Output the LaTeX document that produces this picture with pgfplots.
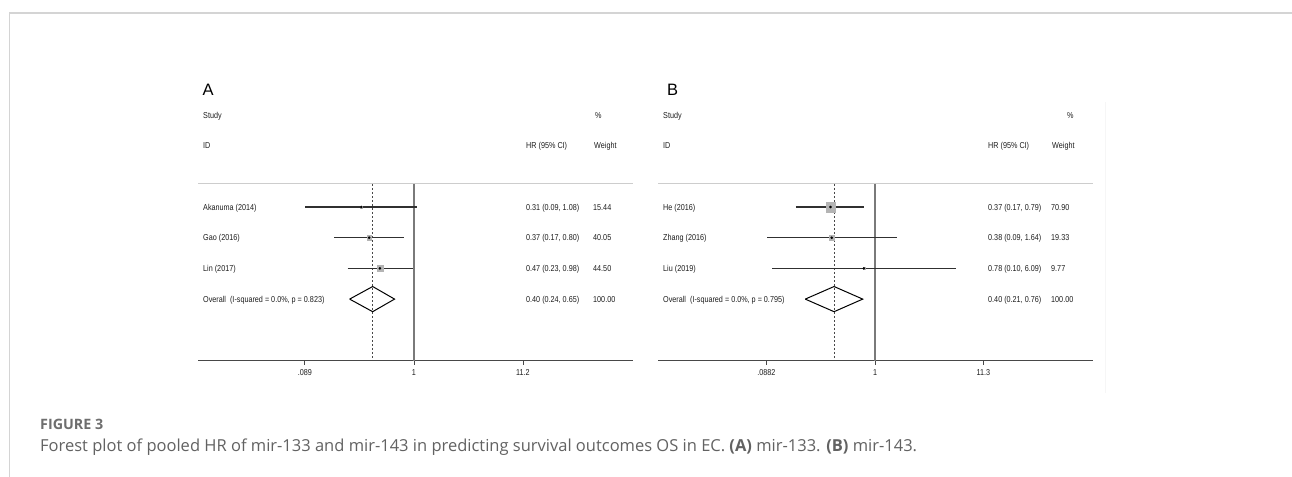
\documentclass[border=0pt]{standalone}
\usepackage{fontspec}
\setmainfont{Liberation Sans}
\newfontfamily\stata{Liberation Sans}[FakeStretch=0.84]
\newfontfamily\capfont{Open Sans}
\usepackage{pgfplots}
\usepackage{pgfplotstable}
\pgfplotsset{compat=1.18}

\definecolor{axisgray}{HTML}{484848}
\definecolor{refgray}{HTML}{7A7A7A}
\definecolor{cigray}{HTML}{303030}
\definecolor{boxgray}{HTML}{B4B4B4}
\definecolor{hdrgray}{HTML}{CDCDCD}
\definecolor{txtgray}{HTML}{1E1E1E}
\definecolor{capgray}{HTML}{626262}
\definecolor{figgray}{HTML}{6E6E6E}
\definecolor{framegray}{HTML}{D4D4D4}

% Panel A: y hr lo hi box(mark half-size)
\pgfplotstableread{
y  hr   lo   hi   box
-1 0.31 0.09 1.08 1.3
-2 0.37 0.17 0.80 2.35
-3 0.47 0.23 0.98 3.0
}\tabA
% Panel B
\pgfplotstableread{
y  hr   lo   hi   box
-1 0.37 0.17 0.79 4.85
-2 0.38 0.09 1.64 2.35
-3 0.78 0.10 6.09 1.2
}\tabB

\newcommand{\fs}{\stata\fontsize{8.6bp}{9bp}\selectfont}
\newcommand{\T}[3]{\node[anchor=base west, inner sep=0pt, font=\fs, text=txtgray] at ({#1bp},{-#2bp-3.1bp}) {#3};}

\pgfplotsset{
  forest/.style={
    anchor=south west, scale only axis, width=435bp, height=291.65bp,
    ymin=-6, ymax=3.5,
    axis x line*=bottom, axis y line=none,
    x axis line style={-, draw=axisgray, line width=1.1bp},
    xminorticks=false,
    tick align=outside, major tick length=4bp,
    every tick/.style={axisgray, line width=0.9bp},
    xticklabel style={font=\fs, text=txtgray, inner sep=0pt, anchor=base, yshift=-10.8bp},
    clip=false,
  },
  ci/.style={cigray, line width=1.3bp},
  boxes/.style={scatter, only marks, mark=square*,
    mark options={draw=none, fill=boxgray},
    scatter/use mapped color={draw=boxgray, fill=boxgray},
    visualization depends on={\thisrow{box} \as \bs},
    scatter/@pre marker code/.append style={/tikz/mark size=\bs}},
}

\begin{document}
\begin{tikzpicture}
\useasboundingbox (0,0) rectangle (1292bp,-477bp);
\fill[white] (0,0) rectangle (1292bp,-477bp);
% frame
\draw[framegray, line width=1.6bp] (9bp,-12.7bp) -- (1292bp,-12.7bp);
\draw[framegray, line width=1bp] (9bp,-12bp) -- (9bp,-477bp);
\draw[gray!7, line width=0.8bp] (1105bp,-102bp) -- (1105bp,-393bp);

% ---------------- Panel A
\begin{axis}[xmode=log, forest, at={(198bp,-360.5bp)}, xmin=0.00832, xmax=128.5,
  xtick={0.089,1,11.2}, xticklabels={.089,1,11.2}]
\addplot[hdrgray, line width=1bp] coordinates {(0.00832,-0.25) (128.5,-0.25)};
\addplot[refgray, line width=1.2bp] coordinates {(1,-0.25) (1,-6)};
\addplot[axisgray, line width=0.8bp, dash pattern=on 2.2bp off 1.8bp] coordinates {(0.40,-0.25) (0.40,-6)};
\addplot[ci] coordinates {(0.09,-1) (1.08,-1)};
\addplot[ci] coordinates {(0.17,-2) (0.80,-2)};
\addplot[ci] coordinates {(0.23,-3) (0.98,-3)};
\addplot[boxes] table[x=hr, y=y] {\tabA};
\addplot[only marks, mark=*, mark size=1.1, black] table[x=hr, y=y] {\tabA};
\addplot[black, line width=1bp] coordinates {(0.24,-4) (0.40,-3.59) (0.65,-4) (0.40,-4.41) (0.24,-4)};
\end{axis}

% ---------------- Panel B
\begin{axis}[xmode=log, forest, at={(658bp,-360.5bp)}, xmin=0.00779, xmax=131.3,
  xtick={0.0882,1,11.3}, xticklabels={.0882,1,11.3}]
\addplot[hdrgray, line width=1bp] coordinates {(0.00779,-0.25) (131.3,-0.25)};
\addplot[refgray, line width=1.2bp] coordinates {(1,-0.25) (1,-6)};
\addplot[axisgray, line width=0.8bp, dash pattern=on 2.2bp off 1.8bp] coordinates {(0.40,-0.25) (0.40,-6)};
\addplot[ci] coordinates {(0.17,-1) (0.79,-1)};
\addplot[ci] coordinates {(0.09,-2) (1.64,-2)};
\addplot[ci] coordinates {(0.10,-3) (6.09,-3)};
\addplot[boxes] table[x=hr, y=y] {\tabB};
\addplot[only marks, mark=*, mark size=1.1, black] table[x=hr, y=y] {\tabB};
\addplot[black, line width=1bp] coordinates {(0.21,-4) (0.40,-3.59) (0.76,-4) (0.40,-4.41) (0.21,-4)};
\end{axis}

% ---------------- Text, panel A
\node[anchor=base west, inner sep=0pt, font=\fontsize{16.5bp}{17bp}\selectfont, text=black] at (202.5bp,-95bp) {A};
\T{203}{115}{Study}
\T{595}{115}{\%}
\T{203}{145}{ID}
\T{526}{145}{HR (95\% CI)}
\T{594}{145}{Weight}
\T{203}{207}{Akanuma (2014)}
\T{203}{237.7}{Gao (2016)}
\T{203}{268.4}{Lin (2017)}
\T{203}{299.1}{Overall\ \ (I-squared = 0.0\%, p = 0.823)}
\T{526}{207}{0.31 (0.09, 1.08)}
\T{526}{237.7}{0.37 (0.17, 0.80)}
\T{526}{268.4}{0.47 (0.23, 0.98)}
\T{526}{299.1}{0.40 (0.24, 0.65)}
\T{593}{207}{15.44}
\T{593}{237.7}{40.05}
\T{593}{268.4}{44.50}
\T{593}{299.1}{100.00}

% ---------------- Text, panel B
\node[anchor=base west, inner sep=0pt, font=\fontsize{16.5bp}{17bp}\selectfont, text=black] at (667bp,-95bp) {B};
\T{663}{115}{Study}
\T{1067}{115}{\%}
\T{663}{145}{ID}
\T{988}{145}{HR (95\% CI)}
\T{1052}{145}{Weight}
\T{663}{207}{He (2016)}
\T{663}{237.7}{Zhang (2016)}
\T{663}{268.4}{Liu (2019)}
\T{663}{299.1}{Overall\ \ (I-squared = 0.0\%, p = 0.795)}
\T{988}{207}{0.37 (0.17, 0.79)}
\T{988}{237.7}{0.38 (0.09, 1.64)}
\T{988}{268.4}{0.78 (0.10, 6.09)}
\T{988}{299.1}{0.40 (0.21, 0.76)}
\T{1051}{207}{70.90}
\T{1051}{237.7}{19.33}
\T{1051}{268.4}{9.77}
\T{1051}{299.1}{100.00}

% ---------------- Caption
\node[anchor=base west, inner sep=0pt, font=\capfont\bfseries\fontsize{14.3bp}{15bp}\selectfont, text=figgray] at (40bp,-429bp) {FIGURE 3};
\node[anchor=base west, inner sep=0pt, font=\capfont\fontsize{16.5bp}{18bp}\selectfont, text=capgray] at (40bp,-451bp)
  {Forest plot of pooled HR of mir-133 and mir-143 in predicting survival outcomes OS in EC. \textbf{(A)} mir-133. \textbf{(B)} mir-143.};
\end{tikzpicture}
\end{document}
